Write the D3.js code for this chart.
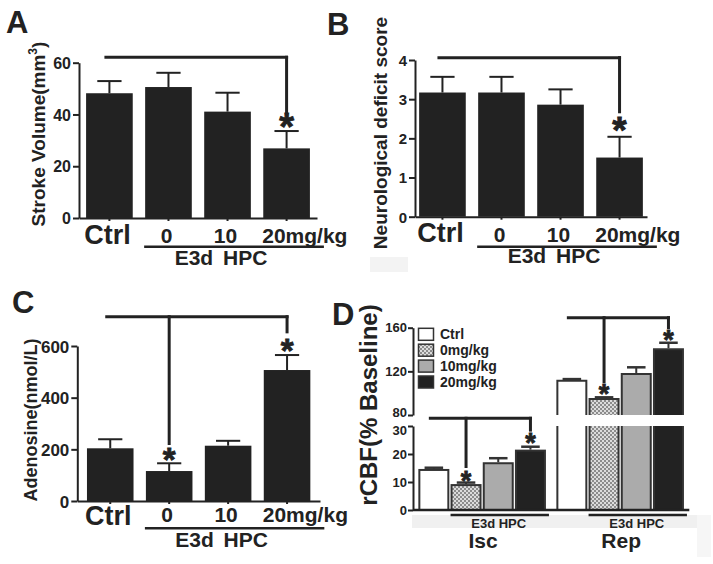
<!DOCTYPE html>
<html><head><meta charset="utf-8">
<script src="https://cdn.jsdelivr.net/npm/d3@7"></script>
<style>
body{margin:0;background:#fff}
text{font-family:"Liberation Sans",Arial,sans-serif;font-weight:bold;fill:#222}
</style>
</head><body>
<svg id="c" width="713" height="564"></svg>
<script>
// ---------- data ----------
const groups = ["Ctrl", "0", "10", "20mg/kg"];
const strokeVolume = [48.2, 50.6, 41.1, 26.9];
const strokeVolumeSem = [4.7, 5.5, 7.3, 6.7];
const neuroScore = [3.17, 3.17, 2.86, 1.51];
const neuroScoreSem = [0.40, 0.40, 0.39, 0.53];
const adenosine = [204, 116, 214, 507];
const adenosineSem = [35, 30, 19, 58];
const phases = ["Isc", "Rep"];
const doses = ["Ctrl", "0mg/kg", "10mg/kg", "20mg/kg"];
const rcbfIsc = [14.3, 8.9, 16.7, 21.2];
const rcbfIscSem = [0.8, 0.9, 1.8, 1.4];
const rcbfRep = [111.4, 94.7, 117.6, 140.2];
const rcbfRepSem = [1.5, 1.5, 6.1, 6.0];
const ticksA = [0, 20, 40, 60];
const ticksB = [0, 1, 2, 3, 4];
const ticksC = [0, 200, 400, 600];
const ticksDUpper = [80, 120, 160];
const ticksDLower = [0, 10, 20, 30];
const groupLabel = "E3d HPC";

const svg = d3.select("#c");
const INK = "#222";

// pattern for 0mg/kg
const defs = svg.append("defs");
const pat = defs.append("pattern").attr("id", "hatch").attr("width", 4).attr("height", 4)
  .attr("patternUnits", "userSpaceOnUse");
pat.append("rect").attr("width", 4).attr("height", 4).attr("fill", "#dcdcdc");
pat.append("rect").attr("width", 2).attr("height", 2).attr("fill", "#8c8c8c");
pat.append("rect").attr("x", 2).attr("y", 2).attr("width", 2).attr("height", 2).attr("fill", "#8c8c8c");
const doseFill = ["#ffffff", "url(#hatch)", "#ababab", "#222222"];

// faint background patches (scan artefacts)
svg.append("rect").attr("x", 370).attr("y", 257).attr("width", 38).attr("height", 15).attr("fill", "#f3f3f3");
svg.append("rect").attr("x", 412).attr("y", 515).attr("width", 285).attr("height", 13).attr("fill", "#f0f0f0");
svg.append("rect").attr("x", 697).attr("y", 515).attr("width", 14).attr("height", 42).attr("fill", "#f6f6f6");

function styleAxis(sel, fs) {
  sel.selectAll("path.domain").attr("stroke", INK).attr("stroke-width", 2);
  sel.selectAll(".tick line").attr("stroke", INK).attr("stroke-width", 2);
  sel.selectAll(".tick text").attr("font-size", fs).attr("font-family", "Liberation Sans, Arial, sans-serif")
    .attr("font-weight", "bold").attr("fill", INK);
}

function asterisk(g, x, yc, fs) {
  g.append("text").attr("x", x).attr("y", yc + 0.52 * fs).attr("text-anchor", "middle")
    .attr("font-size", fs).attr("stroke", INK).attr("stroke-width", 0.8).text("*");
}

function simplePanel(c) {
  const g = svg.append("g");
  const x = d3.scaleBand().domain(groups).range(c.xr).paddingInner(0.21).paddingOuter(c.po);
  const y = d3.scaleLinear().domain(c.dom).range(c.yr);
  const bw = x.bandwidth();
  const cx = i => x(groups[i]) + bw / 2;

  g.selectAll("rect.bar").data(c.vals).join("rect").attr("class", "bar")
    .attr("x", (d, i) => x(groups[i])).attr("width", bw)
    .attr("y", d => y(d)).attr("height", d => y(0) - y(d)).attr("fill", INK);

  // error bars
  c.vals.forEach((v, i) => {
    const top = y(v + c.sem[i]);
    g.append("line").attr("x1", cx(i)).attr("x2", cx(i)).attr("y1", y(v)).attr("y2", top)
      .attr("stroke", INK).attr("stroke-width", 2);
    g.append("line").attr("x1", cx(i) - bw * 0.26).attr("x2", cx(i) + bw * 0.26).attr("y1", top).attr("y2", top)
      .attr("stroke", INK).attr("stroke-width", 2);
  });

  // axes
  const ya = g.append("g").attr("transform", `translate(${c.xr[0]},0)`)
    .call(d3.axisLeft(y).tickValues(c.ticks).tickFormat(d3.format("d")).tickSize(6).tickSizeOuter(0).tickPadding(2));
  styleAxis(ya, c.tickFs);
  ya.selectAll(".tick text").attr("dy", "0.36em");
  const xa = g.append("g").attr("transform", `translate(0,${c.yr[0]})`)
    .call(d3.axisBottom(x).tickSize(3).tickSizeOuter(0).tickFormat(""));
  styleAxis(xa, 10);

  // category labels
  groups.forEach((lab, i) => {
    const t = g.append("text").attr("font-size", i === 0 ? 27 : 21).text(lab);
    if (i === 3) t.attr("x", x(lab) - 1).attr("text-anchor", "start").attr("y", c.yr[0] + c.numOff);
    else t.attr("x", cx(i) - 2).attr("text-anchor", "middle").attr("y", c.yr[0] + (i === 0 ? c.ctrlOff : c.numOff));
  });
  // treatment group underline + label
  const lx1 = x(groups[1]) - 1, lx2 = x(groups[3]) + bw + 14;
  g.append("line").attr("x1", lx1).attr("x2", lx2).attr("y1", c.yr[0] + c.lineOff).attr("y2", c.yr[0] + c.lineOff)
    .attr("stroke", INK).attr("stroke-width", 2.5);
  g.append("text").attr("x", (lx1 + lx2) / 2 - 13).attr("y", c.yr[0] + c.grpOff).attr("text-anchor", "middle")
    .attr("font-size", 21).attr("word-spacing", 4).text(groupLabel);

  // y title
  const tt = g.append("text").attr("transform", `translate(${c.titleX},${c.titleY}) rotate(-90)`)
    .attr("text-anchor", "middle").attr("font-size", c.titleFs);
  c.title(tt);

  // significance bracket
  const b = c.bracket;
  const yt = y(b.top);
  g.append("line").attr("x1", cx(b.from) - 5).attr("x2", cx(b.to) + 1.5).attr("y1", yt).attr("y2", yt)
    .attr("stroke", INK).attr("stroke-width", 3);
  b.drops.forEach(d => {
    g.append("line").attr("x1", cx(d.i)).attr("x2", cx(d.i)).attr("y1", yt - 1.5).attr("y2", y(d.end))
      .attr("stroke", INK).attr("stroke-width", 3);
  });
  b.stars.forEach(s => asterisk(g, cx(s.i), y(s.v), c.starFs));

  // panel letter
  g.append("text").attr("x", c.letter[1]).attr("y", c.letter[2]).attr("font-size", 31).text(c.letter[0]);
}

// Panel A
simplePanel({
  xr: [79, 317], po: 0.12, dom: [0, 60], yr: [218, 62.7], vals: strokeVolume, sem: strokeVolumeSem,
  ticks: ticksA, tickFs: 16, ctrlOff: 26, numOff: 24.5, lineOff: 28.7, grpOff: 47,
  titleX: 45, titleY: 134, titleFs: 19,
  title: t => { t.append("tspan").text("Stroke Volume(mm"); t.append("tspan").attr("font-size", 12).attr("dy", -8).text("3");
                t.append("tspan").attr("dy", 8).text(")"); },
  bracket: { from: 0, to: 3, top: 62.1, drops: [{ i: 3, end: 39.8 }], stars: [{ i: 3, v: 37.6 }] },
  starFs: 38, letter: ["A", 6, 33]
});
// Panel B
simplePanel({
  xr: [415, 647], po: 0.07, dom: [0, 4], yr: [216.7, 60], vals: neuroScore, sem: neuroScoreSem,
  ticks: ticksB, tickFs: 15, ctrlOff: 25, numOff: 25, lineOff: 30, grpOff: 46.6,
  titleX: 387, titleY: 133, titleFs: 19,
  title: t => t.text("Neurological deficit score"),
  bracket: { from: 0, to: 3, top: 4.06, drops: [{ i: 3, end: 2.64 }], stars: [{ i: 3, v: 2.36 }] },
  starFs: 37, letter: ["B", 327, 35]
});
// Panel C
simplePanel({
  xr: [77.3, 320], po: 0.164, dom: [0, 600], yr: [501, 346], vals: adenosine, sem: adenosineSem,
  ticks: ticksC, tickFs: 17, ctrlOff: 24, numOff: 20.7, lineOff: 27.3, grpOff: 45.7,
  titleX: 37, titleY: 420, titleFs: 18,
  title: t => t.text("Adenosine(nmol/L)"),
  bracket: { from: 0, to: 3, top: 713.5, drops: [{ i: 1, end: 216.8 }, { i: 3, end: 649 }],
             stars: [{ i: 1, v: 184 }, { i: 3, v: 606 }] },
  starFs: 33, letter: ["C", 12, 313]
});

// Panel D (broken axis)
(function () {
  const g = svg.append("g");
  const axX = 413;
  const x0 = d3.scaleBand().domain(phases).range([axX, 689.3]).paddingInner(0.09).paddingOuter(0.046);
  const x1 = d3.scaleBand().domain(doses).range([0, x0.bandwidth()]).paddingInner(0.1).paddingOuter(0);
  const yUp = d3.scaleLinear().domain([80, 160]).range([415, 327.7]);
  const yLo = d3.scaleLinear().domain([0, 30]).range([510, 426]);
  const bw = x1.bandwidth();
  const series = [{ phase: "Isc", vals: rcbfIsc, sem: rcbfIscSem }, { phase: "Rep", vals: rcbfRep, sem: rcbfRepSem }];
  const bx = (p, i) => x0(p) + x1(doses[i]);
  const cx = (p, i) => bx(p, i) + bw / 2;
  const yv = v => v > 30 ? yUp(v) : yLo(v);

  series.forEach(s => {
    s.vals.forEach((v, i) => {
      const L = bx(s.phase, i), R = L + bw;
      if (v <= 30) {
        g.append("rect").attr("x", L).attr("y", yLo(v)).attr("width", bw).attr("height", yLo(0) - yLo(v))
          .attr("fill", doseFill[i]).attr("stroke", "#333").attr("stroke-width", 2);
      } else {
        g.append("path").attr("d", `M${L},${yLo(30)}V${yLo(0)}H${R}V${yLo(30)}`)
          .attr("fill", doseFill[i]).attr("stroke", "#333").attr("stroke-width", 2);
        g.append("path").attr("d", `M${L},${yUp(80)}V${yUp(v)}H${R}V${yUp(80)}`)
          .attr("fill", doseFill[i]).attr("stroke", "#333").attr("stroke-width", 2);
      }
      const top = yv(v + s.sem[i]);
      g.append("line").attr("x1", cx(s.phase, i)).attr("x2", cx(s.phase, i)).attr("y1", yv(v) - 1).attr("y2", top)
        .attr("stroke", "#333").attr("stroke-width", 2);
      g.append("line").attr("x1", cx(s.phase, i) - bw * 0.32).attr("x2", cx(s.phase, i) + bw * 0.32)
        .attr("y1", top).attr("y2", top).attr("stroke", "#333").attr("stroke-width", 2.5);
    });
  });

  // axes
  const ya1 = g.append("g").attr("transform", `translate(${axX},0)`)
    .call(d3.axisLeft(yUp).tickValues(ticksDUpper).tickSize(5).tickSizeOuter(0).tickPadding(1));
  styleAxis(ya1, 13);
  ya1.selectAll(".tick text").attr("dy", (d) => d === 80 ? "0.1em" : "0.32em");
  const ya2 = g.append("g").attr("transform", `translate(${axX},0)`)
    .call(d3.axisLeft(yLo).tickValues(ticksDLower).tickSize(5).tickSizeOuter(0).tickPadding(1));
  styleAxis(ya2, 13);
  ya2.selectAll(".tick text").attr("dy", (d) => d === 30 ? "0.62em" : "0.32em");
  g.append("line").attr("x1", axX).attr("x2", 689.3).attr("y1", yLo(0)).attr("y2", yLo(0))
    .attr("stroke", INK).attr("stroke-width", 2.5);

  // group underlines and labels
  phases.forEach(p => {
    const l1 = bx(p, 1) - 1, l2 = bx(p, 3) + bw + 4;
    g.append("line").attr("x1", l1).attr("x2", l2).attr("y1", 515).attr("y2", 515)
      .attr("stroke", INK).attr("stroke-width", 2.5);
    g.append("text").attr("x", (l1 + l2) / 2 - 1).attr("y", 528).attr("text-anchor", "middle")
      .attr("font-size", 13).text(groupLabel);
    g.append("text").attr("x", x0(p) + x0.bandwidth() / 2 + 1).attr("y", 548).attr("text-anchor", "middle")
      .attr("font-size", 21).text(p);
  });

  // brackets
  const brackets = [
    { p: "Isc", sc: yLo, top: 32.75, drops: [{ i: 1, end: 15 }, { i: 3, end: 28 }], stars: [{ i: 1, v: 12.3 }, { i: 3, v: 25.6 }] },
    { p: "Rep", sc: yUp, top: 169.2, drops: [{ i: 1, end: 109.3 }, { i: 3, end: 158.8 }], stars: [{ i: 1, v: 104.2 }, { i: 3, v: 153.6 }] }
  ];
  brackets.forEach(b => {
    const yt = b.sc(b.top);
    g.append("line").attr("x1", cx(b.p, 0) - 5).attr("x2", cx(b.p, 3) + 1.5).attr("y1", yt).attr("y2", yt)
      .attr("stroke", INK).attr("stroke-width", 3);
    b.drops.forEach(d => g.append("line").attr("x1", cx(b.p, d.i)).attr("x2", cx(b.p, d.i))
      .attr("y1", yt - 1.5).attr("y2", b.sc(d.end)).attr("stroke", INK).attr("stroke-width", 3));
    b.stars.forEach(s => asterisk(g, cx(b.p, s.i), b.sc(s.v), 27));
  });

  // legend
  doses.forEach((d, i) => {
    const ty = 328.3 + i * 15.9;
    g.append("rect").attr("x", 418.5).attr("y", ty).attr("width", 15).attr("height", 12)
      .attr("fill", doseFill[i]).attr("stroke", "#333").attr("stroke-width", 1.5);
    g.append("text").attr("x", 440).attr("y", ty + 10.5).attr("font-size", 14).text(d);
  });

  // y title
  g.append("text").attr("transform", `translate(377,405) rotate(-90)`).attr("text-anchor", "middle")
    .attr("font-size", 24).text("rCBF(% Baseline)");
  g.append("text").attr("x", 332).attr("y", 325).attr("font-size", 31).text("D");
})();
</script>
</body></html>
